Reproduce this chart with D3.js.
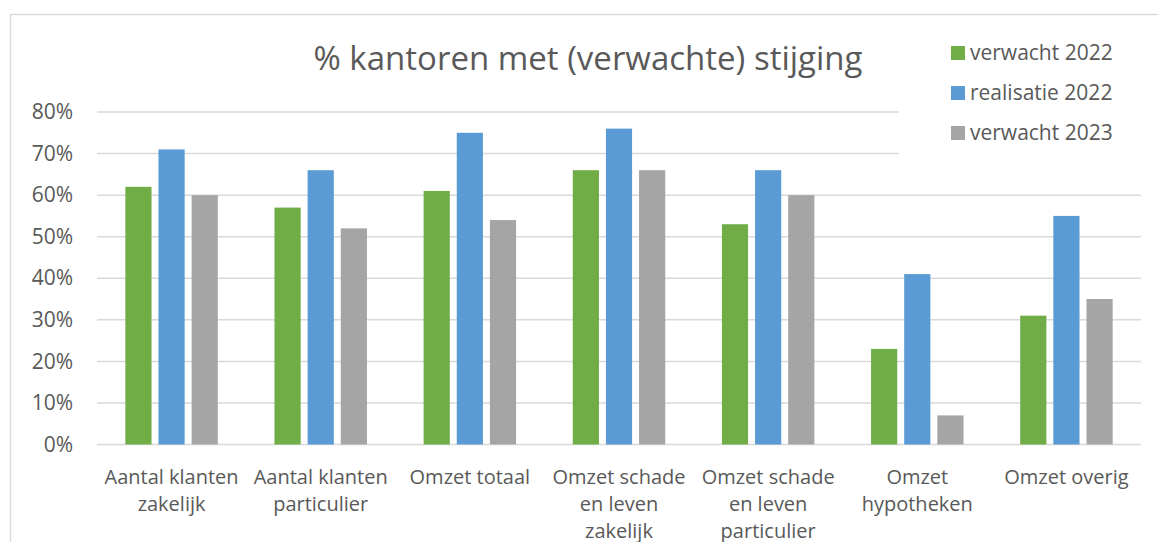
<!DOCTYPE html>
<html>
<head>
<meta charset="utf-8">
<script src="https://cdn.jsdelivr.net/npm/d3@7"></script>
<style>
  html, body { margin: 0; padding: 0; background: #fff; }
  svg { display: block; font-family: "Open Sans", "Noto Sans", sans-serif; }
</style>
</head>
<body>
<div id="chart"></div>
<script>
// categories (wrapped the way the reference shows them)
const categories = [
  ["Aantal klanten", "zakelijk"],
  ["Aantal klanten", "particulier"],
  ["Omzet totaal"],
  ["Omzet schade", "en leven", "zakelijk"],
  ["Omzet schade", "en leven", "particulier"],
  ["Omzet", "hypotheken"],
  ["Omzet overig"]
];
const seriesNames = ["verwacht 2022", "realisatie 2022", "verwacht 2023"];
const verwacht2022 = [62, 57, 61, 66, 53, 23, 31];
const realisatie2022 = [71, 66, 75, 76, 66, 41, 55];
const verwacht2023 = [60, 52, 54, 66, 60, 7, 35];
const yTicks = [0, 10, 20, 30, 40, 50, 60, 70, 80];
const title = "% kantoren met (verwachte) stijging";

const colors = ["#70AD47", "#5B9BD5", "#A5A5A5"];
const textColor = "#595959";
const gridColor = "#D9D9D9";

const W = 1158, H = 542;
const plot = { left: 97, right: 1141, top: 112, bottom: 444.5 };

const svg = d3.select("#chart").append("svg")
  .attr("width", W)
  .attr("height", H);

// chart area border (only top & left visible, rest runs off the picture)
svg.append("rect")
  .attr("x", 10.5).attr("y", 14.5)
  .attr("width", W + 20).attr("height", H + 20)
  .attr("fill", "#fff")
  .attr("stroke", gridColor)
  .attr("stroke-width", 1.5);

const idx = d3.range(categories.length);
const x = d3.scaleBand()
  .domain(idx)
  .range([plot.left, plot.right]);

const groupW = x.bandwidth() * 0.62;
const xs = d3.scaleBand()
  .domain(d3.range(seriesNames.length))
  .range([0, groupW])
  .paddingInner(0.21);

const y = d3.scaleLinear()
  .domain([0, 80])
  .range([plot.bottom, plot.top]);

// gridlines
svg.append("g")
  .selectAll("line")
  .data(yTicks)
  .join("line")
  .attr("x1", plot.left).attr("x2", plot.right)
  .attr("y1", d => y(d)).attr("y2", d => y(d))
  .attr("stroke", gridColor)
  .attr("stroke-width", 1.5);

// y axis labels
const yAxis = svg.append("g")
  .attr("transform", `translate(${plot.left},0)`)
  .call(d3.axisLeft(y).tickValues(yTicks).tickFormat(d => d + "%").tickSize(0).tickPadding(24));
yAxis.select(".domain").remove();
yAxis.selectAll("text")
  .attr("fill", textColor)
  .style("font-size", "21px")
  .style("font-family", "'Open Sans', sans-serif");

// bars
const data = [verwacht2022, realisatie2022, verwacht2023];
data.forEach((vals, s) => {
  svg.append("g")
    .selectAll("rect")
    .data(vals)
    .join("rect")
    .attr("x", (d, i) => x(i) + (x.bandwidth() - groupW) / 2 + xs(s))
    .attr("width", xs.bandwidth())
    .attr("y", d => y(d))
    .attr("height", d => y(0) - y(d))
    .attr("fill", colors[s]);
});

// x axis labels
const xLab = svg.append("g");
categories.forEach((lines, i) => {
  const t = xLab.append("text")
    .attr("x", x(i) + x.bandwidth() / 2)
    .attr("y", 484)
    .attr("text-anchor", "middle")
    .attr("fill", textColor)
    .style("font-size", "20px");
  lines.forEach((ln, j) => {
    t.append("tspan")
      .attr("x", x(i) + x.bandwidth() / 2)
      .attr("dy", j === 0 ? 0 : 27)
      .text(ln);
  });
});

// title
svg.append("text")
  .attr("x", 588)
  .attr("y", 70)
  .attr("text-anchor", "middle")
  .attr("fill", textColor)
  .style("font-size", "33px")
  .text(title);

// legend (white box covers the gridlines behind it)
const lg = svg.append("g");
lg.append("rect")
  .attr("x", 899).attr("y", 30)
  .attr("width", 245).attr("height", 146)
  .attr("fill", "#fff");
seriesNames.forEach((name, s) => {
  const cy = 53 + s * 40;
  lg.append("rect")
    .attr("x", 951).attr("y", cy - 7)
    .attr("width", 14).attr("height", 14)
    .attr("fill", colors[s]);
  lg.append("text")
    .attr("x", 970).attr("y", cy + 7)
    .attr("fill", textColor)
    .style("font-size", "21px")
    .text(name);
});
</script>
</body>
</html>
